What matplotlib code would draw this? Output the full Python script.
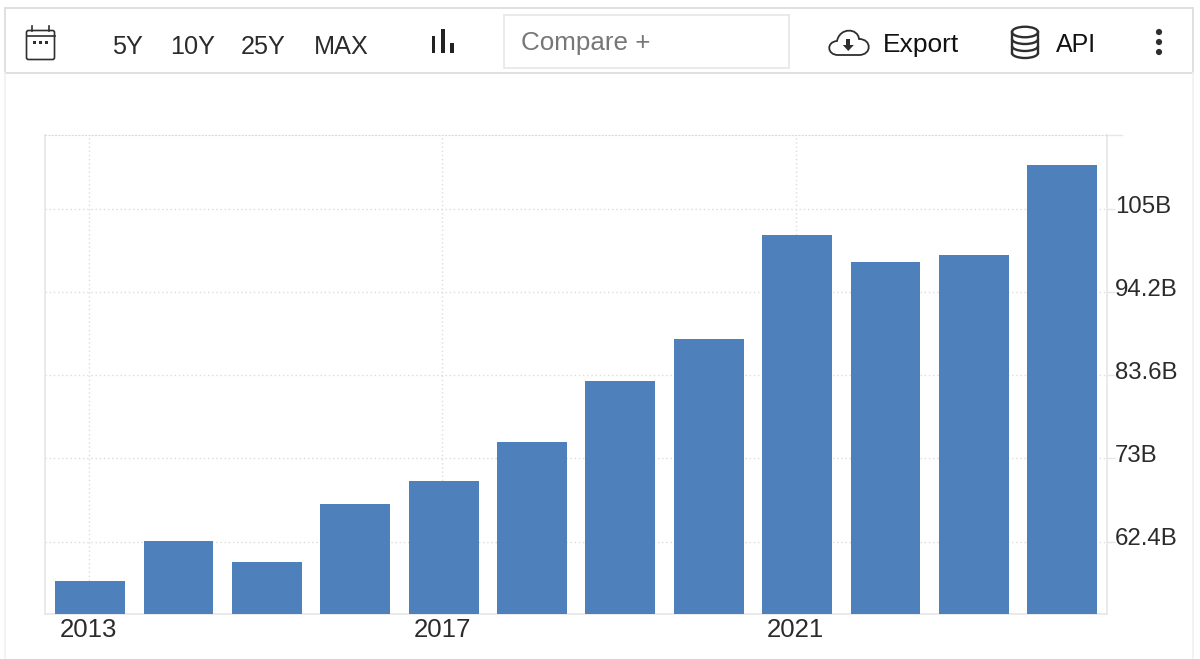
import matplotlib
matplotlib.use("Agg")
import matplotlib.pyplot as plt
from matplotlib.patches import Rectangle, FancyBboxPatch, Circle, Ellipse, Arc, PathPatch, Polygon
from matplotlib.path import Path

plt.rcParams['font.family'] = ['Liberation Sans', 'DejaVu Sans']

years = [2013, 2014, 2015, 2016, 2017, 2018, 2019, 2020, 2021, 2022, 2023, 2024]
values = [57.36, 62.46, 59.78, 67.19, 70.12, 75.1, 82.89, 88.25, 101.52, 98.07, 98.97, 110.45]
y_ticks = [62.4, 73, 83.6, 94.2, 104.8]
y_labels = ["62.4B", "73B", "83.6B", "94.2B", "105B"]
# the gridlines sit a touch left of the bar centres in the original
x_ticks = [2012.985, 2016.985, 2020.985]
x_labels = ["2013", "2017", "2021"]
range_buttons = ["5Y", "10Y", "25Y", "MAX"]
range_x = [112, 170, 241, 314]

W, H = 1200, 659
GRID = "#dcdcdc"
LINE = "#e6e6e6"
BAR = "#4e80bc"
INK = "#2b2b2b"
ICON = "#2e2e2e"

fig = plt.figure(figsize=(W / 100, H / 100), dpi=100, facecolor="white")

# chart area
ax = fig.add_axes([45 / W, 1 - 614 / H, (1107 - 45) / W, (614 - 135) / H])
ax.bar(years, values, width=0.79, color=BAR, zorder=3)
ax.set_xlim(2012.489, 2024.507)
ax.set_ylim(53.15, 114.28)

ax.set_xticks(x_ticks)
ax.set_xticklabels(x_labels)
ax.set_yticks(y_ticks)
ax.set_yticklabels([])
ax.yaxis.tick_right()
ax.tick_params(axis="x", length=0, pad=3, labelsize=18.5, labelcolor=INK)
ax.tick_params(axis="y", length=5.5, width=1, color=LINE)
ax.grid(True, color=GRID, linestyle=(0, (1, 2)), linewidth=1, zorder=0)

for label, v in zip(y_labels, y_ticks):
    ax.annotate(label, xy=(1, v), xycoords=("axes fraction", "data"), xytext=(8, 2.5),
                textcoords="offset pixels", ha="left", va="center", fontsize=17.3, color=INK)

ax.spines["top"].set_color(GRID)
ax.spines["top"].set_linestyle((0, (1, 2)))
ax.spines["left"].set_color(LINE)
ax.spines["right"].set_color(LINE)
ax.spines["bottom"].set_color(LINE)
ax.spines["left"].set_linewidth(1.2)
ax.spines["right"].set_linewidth(1.2)
ax.spines["bottom"].set_linewidth(1.2)

# toolbar and icons, in pixel coordinates
ui = fig.add_axes([0, 0, 1, 1], zorder=5)
ui.set_xlim(0, W)
ui.set_ylim(H, 0)
ui.axis("off")
ui.patch.set_alpha(0)

# page edges
ui.plot([4.5, 4.5], [73, H], color="#f1f1f1", lw=1.2)
ui.plot([1193, 1193], [73, H], color="#f1f1f1", lw=1.2)
ui.plot([1107, 1122], [135, 135], color=LINE, lw=1)

ui.add_patch(Rectangle((5, 8), 1188, 65, fc="white", ec="#dddddd", lw=1.3))
ui.add_patch(Rectangle((503.5, 14.5), 285.5, 53.5, fc="white", ec="#e4e4e0", lw=1.1))

for label, x in zip(range_buttons, range_x):
    ui.text(x, 46.5, label, fontsize=18.2, color=INK, ha="left", va="center")
ui.text(521, 43, "Compare +", fontsize=18.7, color="#777777", ha="left", va="center")
ui.text(883, 45, "Export", fontsize=19, color="#111111", ha="left", va="center")
ui.text(1056, 45, "API", fontsize=18, color="#111111", ha="left", va="center")

# calendar
ui.add_patch(FancyBboxPatch((26.5, 30.5), 28, 29, boxstyle="round,pad=0,rounding_size=2",
                            fc="none", ec=ICON, lw=1.2))
ui.plot([26.5, 54.5], [36, 36], color=ICON, lw=1.2)
for x in (31.7, 49.3):
    ui.plot([x, x], [26, 30.5], color=ICON, lw=1.2)
for x in (34, 40.5, 46.7):
    ui.add_patch(Rectangle((x - 1.5, 41.3), 3, 3, fc=ICON, ec="none"))

# bar chart icon
for x, top in zip((433.5, 443, 452), (36, 28.5, 43)):
    ui.add_patch(Rectangle((x - 1.8, top), 3.6, 53 - top, fc="#222222", ec="none"))

# cloud
cloud = Path(
    [(838, 55), (827, 55), (826, 42), (837, 41),
     (840, 27), (858, 28), (859, 39),
     (872, 39), (872, 55), (859, 55), (838, 55)],
    [Path.MOVETO, Path.CURVE4, Path.CURVE4, Path.CURVE4,
     Path.CURVE4, Path.CURVE4, Path.CURVE4,
     Path.CURVE4, Path.CURVE4, Path.CURVE4, Path.LINETO])
ui.add_patch(PathPatch(cloud, fc="none", ec=ICON, lw=1.3))
ui.add_patch(Rectangle((846.3, 39), 4, 6, fc=ICON, ec="none"))
ui.add_patch(Polygon([(842.8, 45), (853.8, 45), (848.3, 51)], fc=ICON, ec="none"))

# database
ui.add_patch(Ellipse((1025, 32), 26, 10.5, fc="none", ec=ICON, lw=1.7))
ui.plot([1012, 1012], [32, 53], color=ICON, lw=1.7)
ui.plot([1038, 1038], [32, 53], color=ICON, lw=1.7)
for y in (39, 46, 53):
    ui.add_patch(Arc((1025, y), 26, 10, theta1=0, theta2=180, ec=ICON, lw=1.7))

# menu dots
for y in (32, 42, 52):
    ui.add_patch(Circle((1159, y), 3.1, fc=ICON, ec="none"))

fig.savefig("out.png", dpi=100, facecolor="white")
